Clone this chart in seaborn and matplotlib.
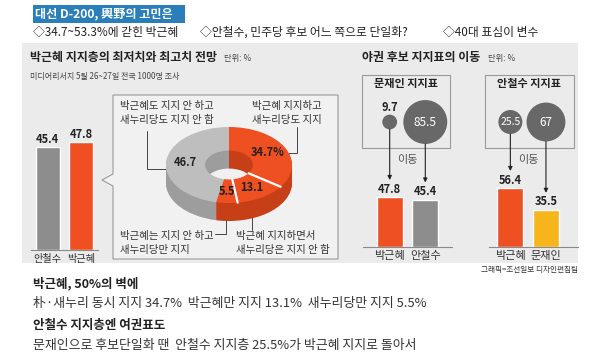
import numpy as np
import matplotlib
matplotlib.use("Agg")
import matplotlib.pyplot as plt
from matplotlib.patches import Rectangle, Polygon
import seaborn as sns

sns.set_style("white")
plt.rcParams['font.family'] = ['Noto Sans CJK KR', 'DejaVu Sans']

left_cats = ["안철수", "박근혜"]
left_vals = [45.4, 47.8]

donut_labels = ["34.7%", "13.1", "5.5", "46.7"]
donut_vals = [34.7, 13.1, 5.5, 46.7]

moon_from = [9.7, 85.5]          # 문재인 지지표 -> 이동
moon_cats = ["박근혜", "안철수"]
moon_vals = [47.8, 45.4]

ahn_from = [25.5, 67]            # 안철수 지지표 -> 이동
ahn_cats = ["박근혜", "문재인"]
ahn_vals = [56.4, 35.5]

ORANGE = '#ef5022'
GRAY = '#8d8d8d'
YELLOW = '#f7b51c'
CIRCLE = '#686868'
PANEL = '#ebebeb'
TXT = '#222222'

W, H = 600, 364
fig = plt.figure(figsize=(6, 3.64), dpi=100)


def px_axes(x0, y0, x1, y1):
    ax = fig.add_axes([x0 / W, 1 - y1 / H, (x1 - x0) / W, (y1 - y0) / H])
    ax.set_facecolor('none')
    return ax


# background / decoration layer in pixel coordinates
bg = fig.add_axes([0, 0, 1, 1])
bg.set_xlim(0, W)
bg.set_ylim(H, 0)
bg.axis('off')

# headline
bg.add_patch(Rectangle((33, 5), 152, 18, fc='#2a7fba', ec='none'))
bg.text(35, 14, "대선 D-200, 輿野의 고민은", color='white', fontsize=8.7,
        fontweight='bold', va='center')
bg.text(33, 32, "◇34.7~53.3%에 갇힌 박근혜", fontsize=8.5, va='center', color=TXT)
bg.text(200, 32, "◇안철수, 민주당 후보 어느 쪽으로 단일화?", fontsize=8.5, va='center', color=TXT)
bg.text(443, 32, "◇40대 표심이 변수", fontsize=8.5, va='center', color=TXT)

# grey panel
bg.add_patch(Rectangle((22, 43), 556, 220, fc=PANEL, ec='none'))

# left panel titles
bg.text(30, 58, "박근혜 지지층의 최저치와 최고치 전망", fontsize=8.6, fontweight='bold',
        va='center', color=TXT)
bg.text(224, 59, "단위: %", fontsize=6, va='center', color='#444')
bg.text(30, 76, "미디어리서치 5월 26~27일 전국 1000명 조사", fontsize=5.8, va='center', color='#444')

# right panel titles
bg.text(362, 58, "야권 후보 지지표의 이동", fontsize=8.6, fontweight='bold', va='center', color=TXT)
bg.text(488, 59, "단위: %", fontsize=6, va='center', color='#444')

# callout box with notch
bg.add_patch(Polygon([(113, 95), (338, 95), (338, 259), (113, 259), (113, 186),
                      (102, 180), (113, 174)], closed=True, fc='#f1f1f1', ec='#9a9a9a', lw=0.8))

# candidate boxes
bg.add_patch(Rectangle((362, 75), 88, 73, fc='none', ec='#9a9a9a', lw=0.8))
bg.add_patch(Rectangle((485, 75), 89, 73, fc='none', ec='#9a9a9a', lw=0.8))
bg.text(406, 84, "문재인 지지표", fontsize=8, fontweight='bold', ha='center', va='center', color=TXT)
bg.text(529, 84, "안철수 지지표", fontsize=8, fontweight='bold', ha='center', va='center', color=TXT)


# ---- bar charts ----
def bars(ax, cats, vals, colors, top, xlim, width, tick_size=8):
    sns.barplot(x=cats, y=vals, hue=cats, palette=colors, width=width, saturation=1,
                legend=False, ax=ax)
    ax.set_ylim(0, top)
    ax.set_xlim(*xlim)
    for c in ax.containers:
        ax.bar_label(c, fmt='%.1f', padding=1, fontsize=8, fontweight='bold', color=TXT)
    ax.set_xlabel('')
    ax.set_ylabel('')
    ax.set_yticks([])
    ax.tick_params(axis='x', length=0, pad=3, labelsize=tick_size, labelcolor='#333')
    for s in ['left', 'right', 'top']:
        ax.spines[s].set_visible(False)
    ax.spines['bottom'].set_color('#8a8a8a')
    ax.spines['bottom'].set_linewidth(0.8)


axL = px_axes(31, 100, 98, 250)
bars(axL, left_cats, left_vals, [GRAY, ORANGE], 150 / 2.26, (-0.5, 1.5), 0.72, tick_size=7.3)

axM = px_axes(363, 75, 452, 247)
bars(axM, moon_cats, moon_vals, [ORANGE, GRAY], 172 / 1.046, (-0.75, 1.75), 0.73)

axA = px_axes(489, 75, 578, 247)
bars(axA, ahn_cats, ahn_vals, [ORANGE, YELLOW], 172 / 1.046, (-0.6, 1.9), 0.73)


def to_px(ax, x, y):
    dx, dy = ax.transData.transform((x, y))
    return dx, H - dy


# circles + arrows
for ax, src, vals in [(axM, moon_from, moon_vals), (axA, ahn_from, ahn_vals)]:
    for i, (s, v) in enumerate(zip(src, vals)):
        cx, top = to_px(ax, i, v)
        r = 22 * np.sqrt(s / 85.5)
        bg.scatter([cx], [122], s=11.7 * s, color=CIRCLE, edgecolors='none', zorder=3)
        lab = f"{s:g}"
        if r < 10:
            bg.text(cx, 122 - r - 7, lab, fontsize=8, fontweight='bold', ha='center',
                    va='center', color=TXT)
        else:
            bg.text(cx, 122, lab, fontsize=7.5 if r < 15 else 8.5, ha='center',
                    va='center', color='white', zorder=4)
        bg.annotate('', xy=(cx, top - 17), xytext=(cx, 122 + r),
                    arrowprops=dict(arrowstyle='-|>', color='#222', lw=0.8,
                                    mutation_scale=6, shrinkA=0, shrinkB=0))
    bx = np.mean([to_px(ax, i, 0)[0] for i in range(2)])
    bg.text(bx, 160, "이동", fontsize=8, ha='center', va='center', color='#555')

# ---- 3D donut ----
dax = px_axes(166, 127, 292, 221)
thick = 18 / 38
n = 18
side = ['#c63f16', '#c63f16', '#c63f16', '#9d9d9d']
topc = [ORANGE, ORANGE, ORANGE, '#bebebe']
for k in range(n, 0, -1):
    dax.pie(donut_vals, radius=1, center=(0, -k * thick / n), colors=side, startangle=90,
            counterclock=False, wedgeprops=dict(width=0.62, linewidth=0))
dax.pie(donut_vals, radius=1, center=(0, 0), colors=topc, startangle=90,
        counterclock=False, wedgeprops=dict(width=0.62, linewidth=0))
cum = np.concatenate([[0], np.cumsum(donut_vals)])
for i in [1, 2]:
    a = np.deg2rad(90 - 360 * cum[i] / 100)
    dax.plot([0.38 * np.cos(a), np.cos(a)], [0.38 * np.sin(a), np.sin(a)], color='white', lw=1.6)
for i, lab in enumerate(donut_labels):
    a = np.deg2rad(90 - 360 * (cum[i] + cum[i + 1]) / 200)
    dax.text(0.69 * np.cos(a), 0.69 * np.sin(a), lab, fontsize=8, fontweight='bold',
             ha='center', va='center', color=TXT)
dax.set_aspect('auto')
dax.set_xlim(-1, 1)
dax.set_ylim(-1 - thick, 1)
dax.axis('off')

# donut annotations
ann = dict(fontsize=7.5, color='#333', va='center', linespacing=1.5)
bg.text(120, 113, "박근혜도 지지 안 하고\n새누리당도 지지 안 함", **ann)
bg.text(252, 113, "박근혜 지지하고\n새누리당도 지지", **ann)
bg.text(120, 243, "박근혜는 지지 안 하고\n새누리당만 지지", **ann)
bg.text(236, 243, "박근혜 지지하면서\n새누리당은 지지 안 함", **ann)
lk = dict(color='#444', lw=0.7)
bg.plot([147, 147, 166], [131, 169, 169], **lk)
bg.plot([297, 297, 282], [127, 153, 153], **lk)
bg.plot([215, 226, 226], [234, 234, 204], **lk)
bg.plot([252, 252], [199, 230], **lk)

# credit
bg.text(578, 270, "그래픽=조선일보 디자인편집팀", fontsize=5.5, ha='right', va='center', color='#333')

# story text
bg.text(33, 284, "박근혜, 50%의 벽에", fontsize=9, fontweight='bold', va='center', color=TXT)
bg.text(33, 303, "朴·새누리 동시 지지 34.7%  박근혜만 지지 13.1%  새누리당만 지지 5.5%",
        fontsize=9.3, va='center', color='#333')
bg.text(33, 326, "안철수 지지층엔 여권표도", fontsize=9, fontweight='bold', va='center', color=TXT)
bg.text(33, 346, "문재인으로 후보단일화 땐  안철수 지지층 25.5%가 박근혜 지지로 돌아서",
        fontsize=9.3, va='center', color='#333')

fig.savefig("out.png", dpi=100)
